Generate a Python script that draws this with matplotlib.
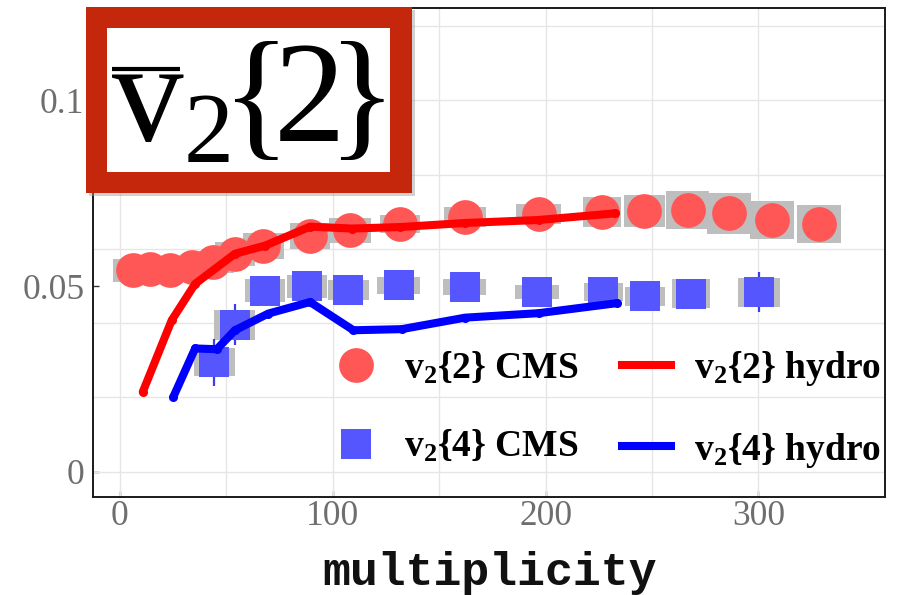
import matplotlib
matplotlib.use("Agg")
import numpy as np
import matplotlib.pyplot as plt
from matplotlib.lines import Line2D
from matplotlib.patches import Rectangle

plt.rcParams["mathtext.fontset"] = "custom"
plt.rcParams["mathtext.rm"] = "Liberation Serif"
plt.rcParams["mathtext.bf"] = "Liberation Serif:bold"
plt.rcParams["mathtext.it"] = "Liberation Serif:italic"

# ---- CMS v2{2}: multiplicity, value, systematic half-width (x) and half-height (y)
cms22_mult = [6.3, 14.0, 23.5, 33.7, 43.9, 54.0, 67.4, 89.3, 108.1, 131.6,
              162.2, 196.7, 226.5, 246.4, 266.7, 286.3, 306.4, 328.3]
cms22_v2 = [0.0542, 0.0547, 0.0542, 0.0551, 0.0565, 0.0587, 0.0609, 0.0636, 0.0650, 0.0668,
            0.0685, 0.0695, 0.0699, 0.0702, 0.0705, 0.0696, 0.0677, 0.0668]
cms22_sys_x = [9.5, 9.5, 9.5, 9.5, 9.5, 9.5, 9.5, 9.5, 10.0, 9.5,
               10.0, 10.5, 9.0, 9.5, 10.0, 10.3, 10.3, 10.3]
cms22_sys_y = [0.0030, 0.0030, 0.0030, 0.0030, 0.0030, 0.0032, 0.0035, 0.0035, 0.0034, 0.0024,
               0.0027, 0.0027, 0.0040, 0.0043, 0.0052, 0.0055, 0.0051, 0.0051]

# ---- CMS v2{4}
cms24_mult = [44.3, 53.9, 68.2, 87.8, 107.3, 130.9, 161.9, 195.9, 227.2, 246.6, 268.4, 300.2]
cms24_v2 = [0.0295, 0.0396, 0.0487, 0.0500, 0.0490, 0.0502, 0.0497, 0.0484, 0.0483, 0.0472, 0.0480, 0.0484]
cms24_stat = [0.0063, 0.0056, 0.0035, 0.0035, 0.0035, 0.0035, 0.0035, 0.0035, 0.0035, 0.0035, 0.0035, 0.0054]
cms24_sys_x = [9.7, 9.7, 9.5, 9.5, 9.5, 10.0, 10.3, 10.5, 9.0, 9.5, 9.0, 10.0]
cms24_sys_y = [0.0038, 0.0040, 0.0031, 0.0031, 0.0027, 0.0023, 0.0022, 0.0020, 0.0024, 0.0026, 0.0038, 0.0039]

# ---- hydro calculations
hydro22_mult = [10.7, 24.3, 35.3, 54.0, 68.2, 89.3, 109.0, 131.6, 162.2, 196.7, 232.7]
hydro22_v2 = [0.0215, 0.0408, 0.0506, 0.0587, 0.0609, 0.0660, 0.0655, 0.0659, 0.0670, 0.0678, 0.0696]
hydro24_mult = [25.1, 35.3, 45.5, 54.0, 69.7, 89.3, 109.7, 132.4, 162.2, 196.7, 233.5]
hydro24_v2 = [0.0202, 0.0332, 0.0330, 0.0381, 0.0426, 0.0457, 0.0381, 0.0384, 0.0415, 0.0427, 0.0454]

x_ticks = [0, 100, 200, 300]
x_ticklabels = ["0", "100", "200", "300"]
y_ticks = [0, 0.05, 0.1]
y_ticklabels = ["0", "0.05", "0.1"]

legend_labels = [r"$\mathbf{v}_{\mathbf{2}}$" + "{2} CMS",
                 r"$\mathbf{v}_{\mathbf{2}}$" + "{4} CMS",
                 r"$\mathbf{v}_{\mathbf{2}}$" + "{2} hydro",
                 r"$\mathbf{v}_{\mathbf{2}}$" + "{4} hydro"]

# the bar over v is drawn separately as a rule
panel_title = r"$\mathrm{v}_{\mathrm{2}}\hspace{-0.15}\{\!\mathrm{2}\!\}$"

RED_PT = "#FF5656"
BLUE_PT = "#5656FF"
SYS_GRAY = "#BEBEBE"

W, H, DPI = 903, 595, 100
fig = plt.figure(figsize=(W / DPI, H / DPI), dpi=DPI)


def fx(px):
    return px / W


def fy(py):
    return 1 - py / H


ax = fig.add_axes([fx(93.5), fy(497), fx(885) - fx(93.5), fy(8) - fy(497)])
ax.set_xlim(-12.45, 359.5)
ax.set_ylim(-0.00681, 0.1249)

# grid every 50 in x and every 0.02 in y
ax.set_xticks(x_ticks)
ax.set_xticklabels(x_ticklabels)
ax.set_yticks(y_ticks)
ax.set_yticklabels(y_ticklabels)
ax.set_xticks(np.arange(0, 301, 50), minor=True)
ax.set_yticks(np.arange(0, 0.121, 0.02), minor=True)
ax.xaxis.remove_overlapping_locs = False
ax.yaxis.remove_overlapping_locs = False
ax.grid(False)
ax.grid(which="minor", color="#E6E6E6", lw=1.0, zorder=0)
ax.set_axisbelow(True)
ax.tick_params(which="minor", length=0)
ax.tick_params(which="major", direction="in", length=4.5, width=1.0, color="#333333",
               top=False, right=False, labelcolor="#6E6E6E")
ax.tick_params(axis="x", pad=2.5)
ax.tick_params(axis="y", pad=6.5)
for lab in ax.get_xticklabels() + ax.get_yticklabels():
    lab.set_fontfamily("Liberation Serif")
    lab.set_fontsize(25.5)
for s in ax.spines.values():
    s.set_linewidth(1.4)
    s.set_color("#1A1A1A")

# systematic uncertainty boxes
ax.bar(cms22_mult, 2 * np.array(cms22_sys_y), bottom=np.array(cms22_v2) - np.array(cms22_sys_y),
       width=2 * np.array(cms22_sys_x), color=SYS_GRAY, lw=0, zorder=2)
ax.bar(cms24_mult, 2 * np.array(cms24_sys_y), bottom=np.array(cms24_v2) - np.array(cms24_sys_y),
       width=2 * np.array(cms24_sys_x), color=SYS_GRAY, lw=0, zorder=2)

# statistical error bars and data points
ax.errorbar(cms24_mult, cms24_v2, yerr=cms24_stat, fmt="none", ecolor="#3B3BF0",
            elinewidth=1.6, capsize=0, zorder=3)
ax.plot(cms22_mult, cms22_v2, "o", color=RED_PT, ms=25, mew=0, zorder=4)
ax.plot(cms24_mult, cms24_v2, "s", color=BLUE_PT, ms=21.6, mew=0, zorder=4)

# hydro curves
ax.plot(hydro22_mult, hydro22_v2, "-", color="#FF0000", lw=5.8, solid_capstyle="round",
        solid_joinstyle="round", marker="o", ms=6.5, mew=0, zorder=5)
ax.plot(hydro24_mult, hydro24_v2, "-", color="#0000FF", lw=5.8, solid_capstyle="round",
        solid_joinstyle="round", marker="o", ms=6.5, mew=0, zorder=5)

# legend
handles = [Line2D([], [], ls="none", marker="o", color=RED_PT, ms=25, mew=0),
           Line2D([], [], ls="none", marker="s", color=BLUE_PT, ms=21.6, mew=0),
           Line2D([], [], color="#FF0000", lw=5.8, solid_capstyle="butt"),
           Line2D([], [], color="#0000FF", lw=5.8, solid_capstyle="butt")]
leg = ax.legend(handles, legend_labels, ncol=2, frameon=False,
                prop={"family": "Liberation Serif", "weight": "bold", "size": 27},
                handlelength=1.52, handletextpad=0.52, columnspacing=1.05,
                labelspacing=1.12, borderpad=0, borderaxespad=0,
                loc="upper left", bbox_to_anchor=(fx(327.5), fy(349.5)),
                bbox_transform=fig.transFigure)
leg.set_zorder(6)

ax.set_xlabel("multiplicity", fontfamily="Liberation Mono", fontweight="bold",
              fontsize=33.5, color="#111111", labelpad=12.5)

# title panel: red frame with white inset
fig.add_artist(Rectangle((fx(89), fy(196)), fx(411.7) - fx(86), fy(6.7) - fy(192.7),
                         transform=fig.transFigure, facecolor="#9A9A9A", alpha=0.45,
                         lw=0, zorder=10))
fig.add_artist(Rectangle((fx(86), fy(192.7)), fx(411.7) - fx(86), fy(6.7) - fy(192.7),
                         transform=fig.transFigure, facecolor="#C4270B", lw=0, zorder=11))
fig.add_artist(Rectangle((fx(107.3), fy(172.3)), fx(390) - fx(107.3), fy(28.3) - fy(172.3),
                         transform=fig.transFigure, facecolor="white", lw=0, zorder=12))
fig.text(fx(111), fy(143), panel_title, fontfamily="Liberation Serif", fontsize=103,
         ha="left", va="baseline", zorder=13)
fig.add_artist(Line2D([fx(112), fx(180)], [fy(68.5), fy(68.5)], transform=fig.transFigure,
                      color="black", lw=3.0, solid_capstyle="butt", zorder=13))

fig.savefig("out.png", dpi=DPI)
